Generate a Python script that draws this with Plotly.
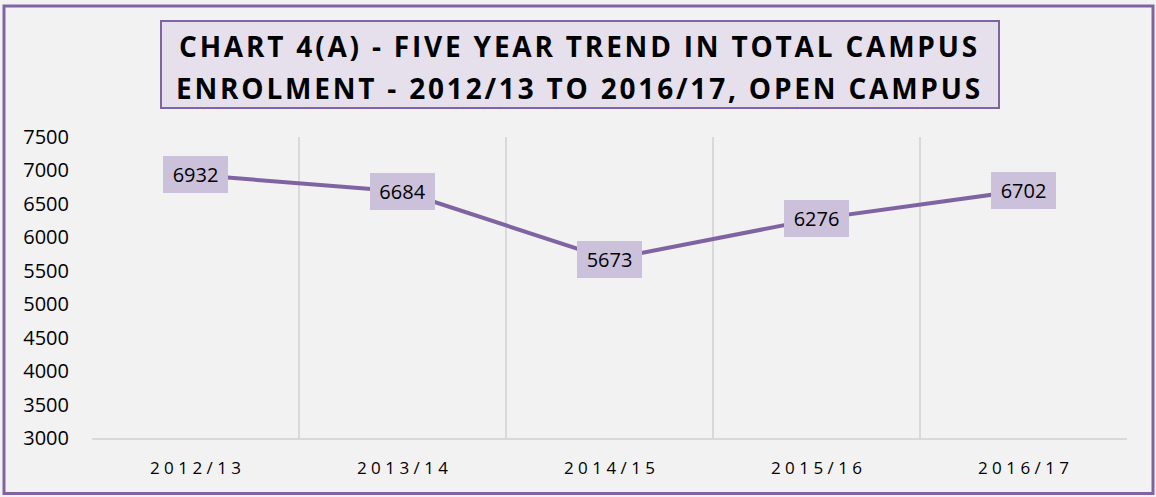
import plotly.graph_objects as go

years = ["2012/13", "2013/14", "2014/15", "2015/16", "2016/17"]
enrolment = [6932, 6684, 5673, 6276, 6702]
y_ticks = [3000, 3500, 4000, 4500, 5000, 5500, 6000, 6500, 7000, 7500]
title_lines = ["CHART 4(A) - FIVE YEAR TREND IN TOTAL CAMPUS",
               "ENROLMENT - 2012/13 TO 2016/17, OPEN CAMPUS"]

PURPLE = "#8064a2"
LABEL_BG = "#ccc1da"
TITLE_BG = "#e6e0ec"
BG = "#f2f2f2"
GRID = "#d9d9d9"

W, H = 1156, 497
L, R, T, B = 92, 1127, 137, 438


def px_x(p):
    return (p - L) / (R - L)


def px_y(p):
    return (B - p) / (B - T)


def spaced(s, sep=" "):
    out = []
    for i, ch in enumerate(s):
        out.append(ch)
        if i < len(s) - 1:
            out.append(sep)
    return "".join(out)


fig = go.Figure()
fig.add_trace(go.Scatter(
    x=years, y=enrolment, mode="lines",
    line=dict(color=PURPLE, width=4),
    hoverinfo="x+y", showlegend=False,
))

annotations = []
for xv, yv in zip(years, enrolment):
    annotations.append(dict(
        x=xv, y=yv, xref="x", yref="y", text=str(yv), showarrow=False,
        font=dict(family="Open Sans", size=20, color="#000000"),
        bgcolor=LABEL_BG, borderpad=5, borderwidth=0,
        width=55, height=27, align="center", valign="middle",
        xanchor="center", yanchor="middle",
    ))

title_y = [46, 88]
for line, ty in zip(title_lines, title_y):
    annotations.append(dict(
        x=px_x(579), y=px_y(ty), xref="paper", yref="paper",
        text='<span style="letter-spacing:2.8px"><b>' + line + "</b></span>",
        showarrow=False,
        font=dict(family="Open Sans", size=28, color="#000000"),
        xanchor="center", yanchor="middle",
    ))

shapes = [
    dict(type="rect", xref="paper", yref="paper",
         x0=px_x(4), x1=px_x(1153), y0=px_y(493.5), y1=px_y(6),
         line=dict(color=PURPLE, width=3), fillcolor="rgba(0,0,0,0)", layer="below"),
    dict(type="rect", xref="paper", yref="paper",
         x0=px_x(161), x1=px_x(999), y0=px_y(108), y1=px_y(21),
         line=dict(color=PURPLE, width=2), fillcolor=TITLE_BG, layer="below"),
]

fig.update_layout(
    width=W, height=H,
    margin=dict(l=L, r=W - R, t=T, b=H - B),
    paper_bgcolor=BG, plot_bgcolor=BG,
    annotations=annotations, shapes=shapes,
    xaxis=dict(
        type="category", tickson="boundaries", range=[-0.5, 4.5],
        tickvals=years, ticktext=[spaced(y) for y in years],
        showgrid=True, gridcolor=GRID, gridwidth=2,
        showline=True, linecolor=GRID, linewidth=2,
        ticks="", ticklabelstandoff=14,
        tickfont=dict(family="Open Sans", size=17, color="#000000"),
        zeroline=False, fixedrange=True,
    ),
    yaxis=dict(
        range=[3000, 7500], tickvals=y_ticks,
        showgrid=False, zeroline=False, showline=False,
        ticks="", ticklabelstandoff=22,
        tickfont=dict(family="Open Sans", size=20, color="#000000"),
        fixedrange=True,
    ),
)

fig.write_html("out.html", config={"displayModeBar": False},
               post_script="document.body.style.margin='0';document.body.style.overflow='hidden';")
